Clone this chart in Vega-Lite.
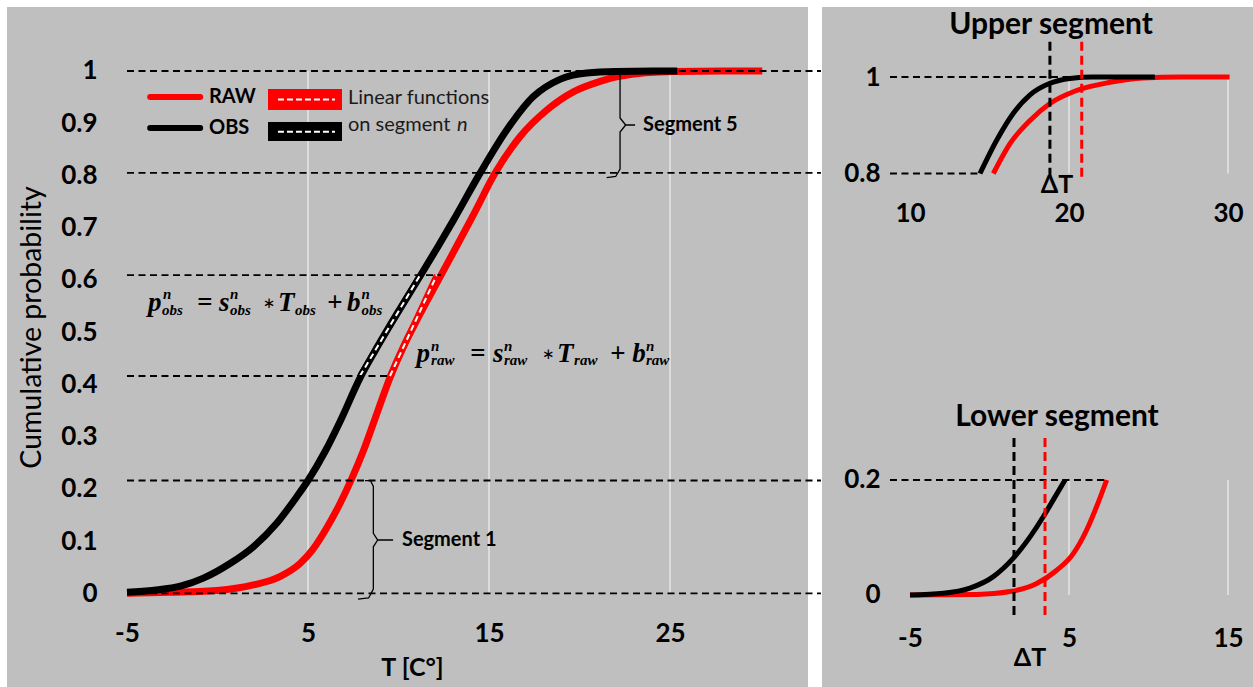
{
  "$schema": "https://vega.github.io/schema/vega-lite/v6.json",
  "width": 1253,
  "height": 687,
  "autosize": {"type": "fit", "contains": "padding"},
  "padding": 0,
  "background": "#ffffff",
  "config": {
    "view": {"stroke": null},
    "axis": {"zindex": 2, "domain": false, "ticks": false, "tickSize": 0, "grid": false, "labelFont": "Lato", "labelFontWeight": "bold", "labelFontSize": 26, "labelColor": "#000000", "labelFlush": false, "labelOverlap": false, "labelBound": false, "titleFont": "Lato", "titleColor": "#000000"}
  },
  "datasets": {
    "main": [
      {"s": "OBS", "T": -5, "p": 0.002}, {"s": "OBS", "T": -3.5, "p": 0.006}, {"s": "OBS", "T": -2, "p": 0.014}, {"s": "OBS", "T": -0.78, "p": 0.029}, {"s": "OBS", "T": 0.69, "p": 0.057}, {"s": "OBS", "T": 1.98, "p": 0.089}, {"s": "OBS", "T": 3.27, "p": 0.134}, {"s": "OBS", "T": 4.38, "p": 0.185}, {"s": "OBS", "T": 5, "p": 0.216}, {"s": "OBS", "T": 5.95, "p": 0.272}, {"s": "OBS", "T": 6.8, "p": 0.331}, {"s": "OBS", "T": 7.87, "p": 0.412}, {"s": "OBS", "T": 8.7, "p": 0.464}, {"s": "OBS", "T": 9.53, "p": 0.513}, {"s": "OBS", "T": 11.19, "p": 0.607}, {"s": "OBS", "T": 12.2, "p": 0.665}, {"s": "OBS", "T": 13.03, "p": 0.714}, {"s": "OBS", "T": 14.5, "p": 0.804}, {"s": "OBS", "T": 15.98, "p": 0.887}, {"s": "OBS", "T": 17.45, "p": 0.951}, {"s": "OBS", "T": 18.92, "p": 0.984}, {"s": "OBS", "T": 20.4, "p": 0.996}, {"s": "OBS", "T": 22, "p": 0.999}, {"s": "OBS", "T": 25.4, "p": 1},
      {"s": "RAW", "T": -5, "p": 0}, {"s": "RAW", "T": -2.6, "p": 0.002}, {"s": "RAW", "T": 0.13, "p": 0.006}, {"s": "RAW", "T": 1.98, "p": 0.016}, {"s": "RAW", "T": 3.45, "p": 0.032}, {"s": "RAW", "T": 4.56, "p": 0.057}, {"s": "RAW", "T": 5.29, "p": 0.085}, {"s": "RAW", "T": 6.03, "p": 0.125}, {"s": "RAW", "T": 6.77, "p": 0.172}, {"s": "RAW", "T": 7.41, "p": 0.219}, {"s": "RAW", "T": 8.06, "p": 0.273}, {"s": "RAW", "T": 8.65, "p": 0.329}, {"s": "RAW", "T": 9.53, "p": 0.413}, {"s": "RAW", "T": 10.3, "p": 0.474}, {"s": "RAW", "T": 11, "p": 0.522}, {"s": "RAW", "T": 12.35, "p": 0.609}, {"s": "RAW", "T": 14.13, "p": 0.724}, {"s": "RAW", "T": 15.33, "p": 0.804}, {"s": "RAW", "T": 16.71, "p": 0.874}, {"s": "RAW", "T": 18.19, "p": 0.925}, {"s": "RAW", "T": 19.66, "p": 0.96}, {"s": "RAW", "T": 21.13, "p": 0.98}, {"s": "RAW", "T": 22.2, "p": 0.99}, {"s": "RAW", "T": 25.2, "p": 0.999}, {"s": "RAW", "T": 30.1, "p": 1}
    ],
    "chords": [
      {"s": "OBS", "T": 7.87, "p": 0.416}, {"s": "OBS", "T": 11.19, "p": 0.609},
      {"s": "RAW", "T": 9.53, "p": 0.416}, {"s": "RAW", "T": 12.11, "p": 0.609}
    ],
    "hl": [
      {"p": 1, "T": -5, "T2": 33.34}, {"p": 0.805, "T": -5, "T2": 33.34}, {"p": 0.609, "T": -5, "T2": 12.35}, {"p": 0.416, "T": -5, "T2": 9.53}, {"p": 0.216, "T": -5, "T2": 33.34}, {"p": 0, "T": -5, "T2": 33.34}
    ],
    "braces": [
      {"b": "5a", "o": 1, "T": 22.24, "p": 0.995}, {"b": "5a", "o": 2, "T": 22.24, "p": 0.91}, {"b": "5a", "o": 3, "T": 22.55, "p": 0.8966}, {"b": "5a", "o": 4, "T": 23.07, "p": 0.8966},
      {"b": "5b", "o": 1, "T": 22.55, "p": 0.8966}, {"b": "5b", "o": 2, "T": 22.24, "p": 0.883}, {"b": "5b", "o": 3, "T": 22.24, "p": 0.812}, {"b": "5b", "o": 4, "T": 22.0, "p": 0.798}, {"b": "5b", "o": 5, "T": 21.5, "p": 0.796},
      {"b": "1a", "o": 1, "T": 8.15, "p": 0.2156}, {"b": "1a", "o": 2, "T": 8.45, "p": 0.2156}, {"b": "1a", "o": 3, "T": 8.61, "p": 0.205}, {"b": "1a", "o": 4, "T": 8.61, "p": 0.115}, {"b": "1a", "o": 5, "T": 8.85, "p": 0.102}, {"b": "1a", "o": 6, "T": 9.7, "p": 0.102},
      {"b": "1b", "o": 1, "T": 8.85, "p": 0.102}, {"b": "1b", "o": 2, "T": 8.61, "p": 0.089}, {"b": "1b", "o": 3, "T": 8.61, "p": 0.008}, {"b": "1b", "o": 4, "T": 8.35, "p": -0.009}, {"b": "1b", "o": 5, "T": 7.76, "p": -0.011}
    ],
    "lt_bold": [
      {"label": "RAW", "T": -0.47, "p": 0.95}, {"label": "OBS", "T": -0.47, "p": 0.8906}, {"label": "Segment 5", "T": 23.51, "p": 0.8966}, {"label": "Segment 1", "T": 10.19, "p": 0.102}
    ],
    "lt_reg": [
      {"label": "Linear functions", "T": 7.21, "p": 0.948}, {"label": "on segment", "T": 7.21, "p": 0.8966}
    ],
    "eqm": [
      {"t": "p", "T": -3.84, "p": 0.5567}, {"t": "=", "T": -1.13, "p": 0.5567}, {"t": "s", "T": 0.083, "p": 0.5567}, {"t": "T", "T": 3.34, "p": 0.5567}, {"t": "+", "T": 6.05, "p": 0.5567}, {"t": "b", "T": 7.15, "p": 0.5567},
      {"t": "p", "T": 11.0, "p": 0.458}, {"t": "=", "T": 13.95, "p": 0.458}, {"t": "s", "T": 15.22, "p": 0.458}, {"t": "T", "T": 18.76, "p": 0.458}, {"t": "+", "T": 21.69, "p": 0.458}, {"t": "b", "T": 22.91, "p": 0.458}
    ],
    "eqop": [
      {"t": "∗", "T": 2.5, "p": 0.5567}, {"t": "∗", "T": 17.93, "p": 0.458}
    ],
    "eqs": [
      {"t": "n", "T": -3.01, "p": 0.573}, {"t": "n", "T": 0.69, "p": 0.573}, {"t": "n", "T": 7.95, "p": 0.573},
      {"t": "obs", "T": -3.07, "p": 0.543}, {"t": "obs", "T": 0.69, "p": 0.543}, {"t": "obs", "T": 4.28, "p": 0.543}, {"t": "obs", "T": 7.95, "p": 0.543},
      {"t": "n", "T": 11.8, "p": 0.4736}, {"t": "n", "T": 15.83, "p": 0.4736}, {"t": "n", "T": 23.67, "p": 0.4736},
      {"t": "raw", "T": 11.8, "p": 0.4466}, {"t": "raw", "T": 15.83, "p": 0.4466}, {"t": "raw", "T": 19.7, "p": 0.4466}, {"t": "raw", "T": 23.67, "p": 0.4466}
    ],
    "up": [
      {"s": "OBS", "T": 14.4, "p": 0.8}, {"s": "OBS", "T": 15.45, "p": 0.869}, {"s": "OBS", "T": 16.5, "p": 0.925}, {"s": "OBS", "T": 17.55, "p": 0.963}, {"s": "OBS", "T": 18.8, "p": 0.987}, {"s": "OBS", "T": 20.06, "p": 0.997}, {"s": "OBS", "T": 21.5, "p": 1}, {"s": "OBS", "T": 25.4, "p": 1},
      {"s": "RAW", "T": 15.24, "p": 0.8}, {"s": "RAW", "T": 16.29, "p": 0.862}, {"s": "RAW", "T": 17.55, "p": 0.91}, {"s": "RAW", "T": 18.8, "p": 0.945}, {"s": "RAW", "T": 20.48, "p": 0.972}, {"s": "RAW", "T": 22.58, "p": 0.989}, {"s": "RAW", "T": 24.65, "p": 0.998}, {"s": "RAW", "T": 27, "p": 1}, {"s": "RAW", "T": 30.1, "p": 1}
    ],
    "low": [
      {"s": "OBS", "T": -5, "p": 0}, {"s": "OBS", "T": -2.9, "p": 0.003}, {"s": "OBS", "T": -1.23, "p": 0.012}, {"s": "OBS", "T": 0.24, "p": 0.032}, {"s": "OBS", "T": 1.5, "p": 0.064}, {"s": "OBS", "T": 2.55, "p": 0.101}, {"s": "OBS", "T": 3.38, "p": 0.136}, {"s": "OBS", "T": 4, "p": 0.165}, {"s": "OBS", "T": 4.75, "p": 0.2},
      {"s": "RAW", "T": -5, "p": 0}, {"s": "RAW", "T": -0.8, "p": 0.001}, {"s": "RAW", "T": 1.29, "p": 0.006}, {"s": "RAW", "T": 2.97, "p": 0.02}, {"s": "RAW", "T": 4.23, "p": 0.043}, {"s": "RAW", "T": 5.27, "p": 0.072}, {"s": "RAW", "T": 6.11, "p": 0.113}, {"s": "RAW", "T": 6.74, "p": 0.154}, {"s": "RAW", "T": 7.37, "p": 0.2}
    ]
  },
  "resolve": {"scale": {"x": "independent", "y": "independent"}, "axis": {"x": "independent", "y": "independent"}},
  "layer": [
    {"data": {"values": [{}]}, "mark": {"type": "rect", "color": "#BFBFBF"},
     "encoding": {"x": {"datum": -11.63, "type": "quantitative", "scale": {"domain": [-12.0166, 57.2099], "nice": false, "zero": false}, "axis": null}, "x2": {"datum": 32.625},
                  "y": {"datum": 1.1225, "type": "quantitative", "scale": {"domain": [-0.1794, 1.1359], "nice": false, "zero": false}, "axis": null}, "y2": {"datum": -0.1794}}},
    {"data": {"values": [{}]}, "mark": {"type": "rect", "color": "#BFBFBF"},
     "encoding": {"x": {"datum": 33.398, "type": "quantitative", "scale": {"domain": [-12.0166, 57.2099], "nice": false, "zero": false}, "axis": null}, "x2": {"datum": 57.2099},
                  "y": {"datum": 1.1225, "type": "quantitative", "scale": {"domain": [-0.1794, 1.1359], "nice": false, "zero": false}, "axis": null}, "y2": {"datum": -0.1794}}},
    {"data": {"values": [{"T": 5}, {"T": 15}, {"T": 25}]}, "mark": {"type": "rule", "color": "#E6E6E6", "strokeWidth": 1.5},
     "encoding": {"x": {"field": "T", "type": "quantitative", "scale": {"domain": [-12.0166, 57.2099], "nice": false, "zero": false}, "axis": null},
                  "y": {"datum": 0, "type": "quantitative", "scale": {"domain": [-0.1794, 1.1359], "nice": false, "zero": false}, "axis": null}, "y2": {"datum": 1}}},
    {"data": {"name": "main"}, "transform": [{"filter": "datum.s === 'RAW'"}], "mark": {"type": "line", "color": "#FF0000", "strokeWidth": 7, "interpolate": "monotone", "strokeCap": "butt"},
     "encoding": {
       "x": {"field": "T", "type": "quantitative", "scale": {"domain": [-12.0166, 57.2099], "nice": false, "zero": false},
             "axis": {"zindex": 2, "orient": "bottom", "offset": -67, "values": [-5, 5, 15, 25], "labelExpr": "'' + datum.value", "labelPadding": 13, "labelBaseline": "middle", "title": "T [C°]", "titleFontWeight": "bold", "titleFontSize": 25, "titleX": 412, "titleY": 47, "titleAlign": "center", "titleBaseline": "middle", "titleAngle": 0}},
       "y": {"field": "p", "type": "quantitative", "scale": {"domain": [-0.1794, 1.1359], "nice": false, "zero": false},
             "axis": {"zindex": 2, "orient": "left", "offset": -107, "values": [0, 0.1, 0.2, 0.3, 0.4, 0.5, 0.6, 0.7, 0.8, 0.9, 1], "labelExpr": "'' + datum.value", "labelPadding": 10, "labelBaseline": "middle", "labelAlign": "right", "title": "Cumulative probability", "titleFontWeight": "normal", "titleFontSize": 28.5, "titleX": -76, "titleY": 327, "titleAngle": -90, "titleAlign": "center", "titleBaseline": "middle"}}}},
    {"data": {"name": "main"}, "transform": [{"filter": "datum.s === 'OBS'"}], "mark": {"type": "line", "color": "#000000", "strokeWidth": 7, "interpolate": "monotone", "strokeCap": "butt"},
     "encoding": {"x": {"field": "T", "type": "quantitative", "scale": {"domain": [-12.0166, 57.2099], "nice": false, "zero": false}, "axis": null},
                  "y": {"field": "p", "type": "quantitative", "scale": {"domain": [-0.1794, 1.1359], "nice": false, "zero": false}, "axis": null}}},
    {"data": {"name": "chords"}, "mark": {"type": "line", "strokeWidth": 6},
     "encoding": {"x": {"field": "T", "type": "quantitative", "scale": {"domain": [-12.0166, 57.2099], "nice": false, "zero": false}, "axis": null},
                  "y": {"field": "p", "type": "quantitative", "scale": {"domain": [-0.1794, 1.1359], "nice": false, "zero": false}, "axis": null},
                  "color": {"field": "s", "type": "nominal", "scale": {"domain": ["RAW", "OBS"], "range": ["#FF0000", "#000000"]}, "legend": null}}},
    {"data": {"name": "chords"}, "mark": {"type": "line", "strokeWidth": 2, "color": "#FFFFFF", "strokeDash": [6, 4]},
     "encoding": {"x": {"field": "T", "type": "quantitative", "scale": {"domain": [-12.0166, 57.2099], "nice": false, "zero": false}, "axis": null},
                  "y": {"field": "p", "type": "quantitative", "scale": {"domain": [-0.1794, 1.1359], "nice": false, "zero": false}, "axis": null},
                  "detail": {"field": "s", "type": "nominal"}}},
    {"data": {"name": "hl"}, "mark": {"type": "rule", "color": "#000000", "strokeWidth": 1.8, "strokeDash": [7, 4.5]},
     "encoding": {"x": {"field": "T", "type": "quantitative", "scale": {"domain": [-12.0166, 57.2099], "nice": false, "zero": false}, "axis": null}, "x2": {"field": "T2"},
                  "y": {"field": "p", "type": "quantitative", "scale": {"domain": [-0.1794, 1.1359], "nice": false, "zero": false}, "axis": null}}},
    {"data": {"name": "braces"}, "mark": {"type": "line", "color": "#000000", "strokeWidth": 1.3},
     "encoding": {"x": {"field": "T", "type": "quantitative", "scale": {"domain": [-12.0166, 57.2099], "nice": false, "zero": false}, "axis": null},
                  "y": {"field": "p", "type": "quantitative", "scale": {"domain": [-0.1794, 1.1359], "nice": false, "zero": false}, "axis": null},
                  "detail": {"field": "b", "type": "nominal"}, "order": {"field": "o", "type": "quantitative"}}},
    {"data": {"name": "lt_bold"}, "mark": {"type": "text", "font": "Lato", "fontWeight": "bold", "fontSize": 20, "align": "left", "baseline": "middle", "color": "#000000"},
     "encoding": {"x": {"field": "T", "type": "quantitative", "scale": {"domain": [-12.0166, 57.2099], "nice": false, "zero": false}, "axis": null},
                  "y": {"field": "p", "type": "quantitative", "scale": {"domain": [-0.1794, 1.1359], "nice": false, "zero": false}, "axis": null},
                  "text": {"field": "label"}}},
    {"data": {"name": "lt_reg"}, "mark": {"type": "text", "font": "Lato", "fontSize": 20, "align": "left", "baseline": "middle", "color": "#1a1a1a"},
     "encoding": {"x": {"field": "T", "type": "quantitative", "scale": {"domain": [-12.0166, 57.2099], "nice": false, "zero": false}, "axis": null},
                  "y": {"field": "p", "type": "quantitative", "scale": {"domain": [-0.1794, 1.1359], "nice": false, "zero": false}, "axis": null},
                  "text": {"field": "label"}}},
    {"data": {"values": [{}]}, "mark": {"type": "text", "text": "n", "font": "Lato", "fontStyle": "italic", "fontSize": 20, "align": "left", "baseline": "middle", "color": "#1a1a1a"},
     "encoding": {"x": {"datum": 13.23, "type": "quantitative", "scale": {"domain": [-12.0166, 57.2099], "nice": false, "zero": false}, "axis": null},
                  "y": {"datum": 0.8966, "type": "quantitative", "scale": {"domain": [-0.1794, 1.1359], "nice": false, "zero": false}, "axis": null}}},
    {"data": {"values": [{}]}, "mark": {"type": "rule", "color": "#FF0000", "strokeWidth": 6, "strokeCap": "round"},
     "encoding": {"x": {"datum": -3.72, "type": "quantitative", "scale": {"domain": [-12.0166, 57.2099], "nice": false, "zero": false}, "axis": null}, "x2": {"datum": -0.956},
                  "y": {"datum": 0.95, "type": "quantitative", "scale": {"domain": [-0.1794, 1.1359], "nice": false, "zero": false}, "axis": null}}},
    {"data": {"values": [{}]}, "mark": {"type": "rule", "color": "#000000", "strokeWidth": 6, "strokeCap": "round"},
     "encoding": {"x": {"datum": -3.72, "type": "quantitative", "scale": {"domain": [-12.0166, 57.2099], "nice": false, "zero": false}, "axis": null}, "x2": {"datum": -0.956},
                  "y": {"datum": 0.8906, "type": "quantitative", "scale": {"domain": [-0.1794, 1.1359], "nice": false, "zero": false}, "axis": null}}},
    {"data": {"values": [{}]}, "mark": {"type": "rect", "color": "#FF0000"},
     "encoding": {"x": {"datum": 2.79, "type": "quantitative", "scale": {"domain": [-12.0166, 57.2099], "nice": false, "zero": false}, "axis": null}, "x2": {"datum": 6.878},
                  "y": {"datum": 0.9655, "type": "quantitative", "scale": {"domain": [-0.1794, 1.1359], "nice": false, "zero": false}, "axis": null}, "y2": {"datum": 0.9253}}},
    {"data": {"values": [{}]}, "mark": {"type": "rect", "color": "#000000"},
     "encoding": {"x": {"datum": 2.79, "type": "quantitative", "scale": {"domain": [-12.0166, 57.2099], "nice": false, "zero": false}, "axis": null}, "x2": {"datum": 6.878},
                  "y": {"datum": 0.9024, "type": "quantitative", "scale": {"domain": [-0.1794, 1.1359], "nice": false, "zero": false}, "axis": null}, "y2": {"datum": 0.866}}},
    {"data": {"values": [{}]}, "mark": {"type": "rule", "color": "#FFFFFF", "strokeWidth": 2, "strokeDash": [6, 3]},
     "encoding": {"x": {"datum": 3.34, "type": "quantitative", "scale": {"domain": [-12.0166, 57.2099], "nice": false, "zero": false}, "axis": null}, "x2": {"datum": 6.49},
                  "y": {"datum": 0.9454, "type": "quantitative", "scale": {"domain": [-0.1794, 1.1359], "nice": false, "zero": false}, "axis": null}}},
    {"data": {"values": [{}]}, "mark": {"type": "rule", "color": "#FFFFFF", "strokeWidth": 2, "strokeDash": [6, 3]},
     "encoding": {"x": {"datum": 3.34, "type": "quantitative", "scale": {"domain": [-12.0166, 57.2099], "nice": false, "zero": false}, "axis": null}, "x2": {"datum": 6.49},
                  "y": {"datum": 0.8838, "type": "quantitative", "scale": {"domain": [-0.1794, 1.1359], "nice": false, "zero": false}, "axis": null}}},
    {"data": {"name": "eqm"}, "mark": {"type": "text", "font": "Liberation Serif", "fontWeight": "bold", "fontStyle": "italic", "fontSize": 27, "align": "left", "baseline": "middle", "color": "#000000"},
     "encoding": {"x": {"field": "T", "type": "quantitative", "scale": {"domain": [-12.0166, 57.2099], "nice": false, "zero": false}, "axis": null},
                  "y": {"field": "p", "type": "quantitative", "scale": {"domain": [-0.1794, 1.1359], "nice": false, "zero": false}, "axis": null},
                  "text": {"field": "t"}}},
    {"data": {"name": "eqop"}, "mark": {"type": "text", "font": "DejaVu Sans", "fontSize": 15, "align": "left", "baseline": "middle", "color": "#000000"},
     "encoding": {"x": {"field": "T", "type": "quantitative", "scale": {"domain": [-12.0166, 57.2099], "nice": false, "zero": false}, "axis": null},
                  "y": {"field": "p", "type": "quantitative", "scale": {"domain": [-0.1794, 1.1359], "nice": false, "zero": false}, "axis": null},
                  "text": {"field": "t"}}},
    {"data": {"name": "eqs"}, "mark": {"type": "text", "font": "Liberation Serif", "fontWeight": "bold", "fontStyle": "italic", "fontSize": 15, "align": "left", "baseline": "middle", "color": "#000000"},
     "encoding": {"x": {"field": "T", "type": "quantitative", "scale": {"domain": [-12.0166, 57.2099], "nice": false, "zero": false}, "axis": null},
                  "y": {"field": "p", "type": "quantitative", "scale": {"domain": [-0.1794, 1.1359], "nice": false, "zero": false}, "axis": null},
                  "text": {"field": "t"}}},

    {"data": {"values": [{"T": 20}, {"T": 30}]}, "mark": {"type": "rule", "color": "#E6E6E6", "strokeWidth": 1.5},
     "encoding": {"x": {"field": "T", "type": "quantitative", "scale": {"domain": [-47.233, 31.572], "nice": false, "zero": false}, "axis": null},
                  "y": {"datum": 0.8, "type": "quantitative", "scale": {"domain": [-0.26425, 1.15959], "nice": false, "zero": false}, "axis": null}, "y2": {"datum": 1}}},
    {"data": {"values": [{"p": 1, "T": 8.74, "T2": 20.5}, {"p": 0.8, "T": 8.74, "T2": 14.3}]}, "mark": {"type": "rule", "color": "#000000", "strokeWidth": 1.8, "strokeDash": [7, 4.5]},
     "encoding": {"x": {"field": "T", "type": "quantitative", "scale": {"domain": [-47.233, 31.572], "nice": false, "zero": false}, "axis": null}, "x2": {"field": "T2"},
                  "y": {"field": "p", "type": "quantitative", "scale": {"domain": [-0.26425, 1.15959], "nice": false, "zero": false}, "axis": null}}},
    {"data": {"name": "up"}, "transform": [{"filter": "datum.s === 'RAW'"}], "mark": {"type": "line", "color": "#FF0000", "strokeWidth": 5, "interpolate": "monotone", "strokeCap": "butt"},
     "encoding": {"x": {"field": "T", "type": "quantitative", "scale": {"domain": [-47.233, 31.572], "nice": false, "zero": false},
                        "axis": {"zindex": 2, "orient": "bottom", "offset": -487, "values": [10, 20, 30], "labelExpr": "'' + datum.value", "labelPadding": 13, "labelBaseline": "middle", "title": null}},
                  "y": {"field": "p", "type": "quantitative", "scale": {"domain": [-0.26425, 1.15959], "nice": false, "zero": false},
                        "axis": {"zindex": 2, "orient": "left", "offset": -890, "values": [0.8, 1], "labelExpr": "'' + datum.value", "labelPadding": 10, "labelBaseline": "middle", "labelAlign": "right", "title": null}}}},
    {"data": {"name": "up"}, "transform": [{"filter": "datum.s === 'OBS'"}], "mark": {"type": "line", "color": "#000000", "strokeWidth": 5, "interpolate": "monotone", "strokeCap": "butt"},
     "encoding": {"x": {"field": "T", "type": "quantitative", "scale": {"domain": [-47.233, 31.572], "nice": false, "zero": false}, "axis": null},
                  "y": {"field": "p", "type": "quantitative", "scale": {"domain": [-0.26425, 1.15959], "nice": false, "zero": false}, "axis": null}}},
    {"data": {"values": [{"s": "OBS", "T": 18.8}, {"s": "RAW", "T": 20.8}]}, "mark": {"type": "rule", "strokeWidth": 3, "strokeDash": [9, 5]},
     "encoding": {"x": {"field": "T", "type": "quantitative", "scale": {"domain": [-47.233, 31.572], "nice": false, "zero": false}, "axis": null},
                  "y": {"datum": 1.0732, "type": "quantitative", "scale": {"domain": [-0.26425, 1.15959], "nice": false, "zero": false}, "axis": null}, "y2": {"datum": 0.7934},
                  "color": {"field": "s", "type": "nominal", "scale": {"domain": ["RAW", "OBS"], "range": ["#FF0000", "#000000"]}, "legend": null}}},
    {"data": {"values": [{"label": "ΔT", "T": 19.245, "p": 0.776}]}, "mark": {"type": "text", "font": "Lato", "fontWeight": "bold", "fontSize": 25, "align": "center", "baseline": "middle", "color": "#000000"},
     "encoding": {"x": {"field": "T", "type": "quantitative", "scale": {"domain": [-47.233, 31.572], "nice": false, "zero": false}, "axis": null},
                  "y": {"field": "p", "type": "quantitative", "scale": {"domain": [-0.26425, 1.15959], "nice": false, "zero": false}, "axis": null},
                  "text": {"field": "label"}}},
    {"data": {"values": [{"label": "Upper segment", "T": 18.87, "p": 1.1078}]}, "mark": {"type": "text", "font": "Lato", "fontWeight": "bold", "fontSize": 30, "align": "center", "baseline": "middle", "color": "#000000"},
     "encoding": {"x": {"field": "T", "type": "quantitative", "scale": {"domain": [-47.233, 31.572], "nice": false, "zero": false}, "axis": null},
                  "y": {"field": "p", "type": "quantitative", "scale": {"domain": [-0.26425, 1.15959], "nice": false, "zero": false}, "axis": null},
                  "text": {"field": "label"}}},

    {"data": {"values": [{"T": 5}, {"T": 15}]}, "mark": {"type": "rule", "color": "#E6E6E6", "strokeWidth": 1.5},
     "encoding": {"x": {"field": "T", "type": "quantitative", "scale": {"domain": [-62.233, 16.572], "nice": false, "zero": false}, "axis": null},
                  "y": {"datum": 0, "type": "quantitative", "scale": {"domain": [-0.16, 1.03478], "nice": false, "zero": false}, "axis": null}, "y2": {"datum": 0.2}}},
    {"data": {"values": [{"p": 0.2, "T": -6.26, "T2": 7.37}]}, "mark": {"type": "rule", "color": "#000000", "strokeWidth": 1.8, "strokeDash": [7, 4.5]},
     "encoding": {"x": {"field": "T", "type": "quantitative", "scale": {"domain": [-62.233, 16.572], "nice": false, "zero": false}, "axis": null}, "x2": {"field": "T2"},
                  "y": {"field": "p", "type": "quantitative", "scale": {"domain": [-0.16, 1.03478], "nice": false, "zero": false}, "axis": null}}},
    {"data": {"name": "low"}, "transform": [{"filter": "datum.s === 'RAW'"}], "mark": {"type": "line", "color": "#FF0000", "strokeWidth": 5, "interpolate": "monotone", "strokeCap": "butt"},
     "encoding": {"x": {"field": "T", "type": "quantitative", "scale": {"domain": [-62.233, 16.572], "nice": false, "zero": false},
                        "axis": {"zindex": 2, "orient": "bottom", "offset": -62, "values": [-5, 5, 15], "labelExpr": "'' + datum.value", "labelPadding": 13, "labelBaseline": "middle", "title": null}},
                  "y": {"field": "p", "type": "quantitative", "scale": {"domain": [-0.16, 1.03478], "nice": false, "zero": false},
                        "axis": {"zindex": 2, "orient": "left", "offset": -890, "values": [0, 0.2], "labelExpr": "'' + datum.value", "labelPadding": 10, "labelBaseline": "middle", "labelAlign": "right", "title": null}}}},
    {"data": {"name": "low"}, "transform": [{"filter": "datum.s === 'OBS'"}], "mark": {"type": "line", "color": "#000000", "strokeWidth": 5, "interpolate": "monotone", "strokeCap": "butt"},
     "encoding": {"x": {"field": "T", "type": "quantitative", "scale": {"domain": [-62.233, 16.572], "nice": false, "zero": false}, "axis": null},
                  "y": {"field": "p", "type": "quantitative", "scale": {"domain": [-0.16, 1.03478], "nice": false, "zero": false}, "axis": null}}},
    {"data": {"values": [{"s": "OBS", "T": 1.54}, {"s": "RAW", "T": 3.49}]}, "mark": {"type": "rule", "strokeWidth": 3, "strokeDash": [9, 5]},
     "encoding": {"x": {"field": "T", "type": "quantitative", "scale": {"domain": [-62.233, 16.572], "nice": false, "zero": false}, "axis": null},
                  "y": {"datum": 0.273, "type": "quantitative", "scale": {"domain": [-0.16, 1.03478], "nice": false, "zero": false}, "axis": null}, "y2": {"datum": -0.0435},
                  "color": {"field": "s", "type": "nominal", "scale": {"domain": ["RAW", "OBS"], "range": ["#FF0000", "#000000"]}, "legend": null}}},
    {"data": {"values": [{"label": "ΔT", "T": 2.547, "p": -0.1096}]}, "mark": {"type": "text", "font": "Lato", "fontWeight": "bold", "fontSize": 25, "align": "center", "baseline": "middle", "color": "#000000"},
     "encoding": {"x": {"field": "T", "type": "quantitative", "scale": {"domain": [-62.233, 16.572], "nice": false, "zero": false}, "axis": null},
                  "y": {"field": "p", "type": "quantitative", "scale": {"domain": [-0.16, 1.03478], "nice": false, "zero": false}, "axis": null},
                  "text": {"field": "label"}}},
    {"data": {"values": [{"label": "Lower segment", "T": 4.245, "p": 0.31}]}, "mark": {"type": "text", "font": "Lato", "fontWeight": "bold", "fontSize": 30, "align": "center", "baseline": "middle", "color": "#000000"},
     "encoding": {"x": {"field": "T", "type": "quantitative", "scale": {"domain": [-62.233, 16.572], "nice": false, "zero": false}, "axis": null},
                  "y": {"field": "p", "type": "quantitative", "scale": {"domain": [-0.16, 1.03478], "nice": false, "zero": false}, "axis": null},
                  "text": {"field": "label"}}}
  ]
}
